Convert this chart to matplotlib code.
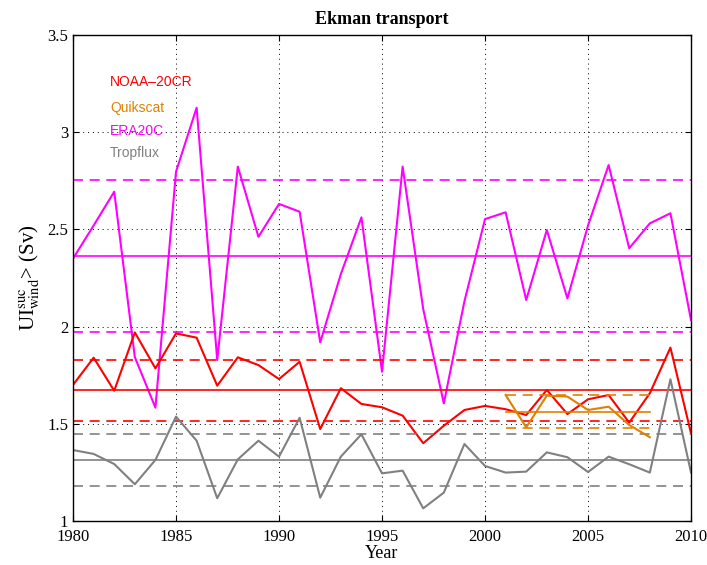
import numpy as np
import matplotlib.pyplot as plt

plt.rcParams['font.family'] = 'Liberation Serif'
plt.rcParams['mathtext.fontset'] = 'stix'

years = np.arange(1980, 2011)
noaa = [1.70, 1.84, 1.67, 1.97, 1.785, 1.965, 1.943, 1.696, 1.842, 1.802,
        1.730, 1.819, 1.473, 1.683, 1.602, 1.585, 1.542, 1.400, 1.49, 1.571,
        1.592, 1.575, 1.545, 1.674, 1.550, 1.626, 1.648, 1.506, 1.657, 1.892,
        1.451]
era20c = [2.35, 2.52, 2.694, 1.843, 1.583, 2.797, 3.126, 1.828, 2.823, 2.462,
          2.631, 2.591, 1.919, 2.27, 2.562, 1.768, 2.823, 2.09, 1.605, 2.13,
          2.553, 2.588, 2.137, 2.497, 2.145, 2.52, 2.831, 2.403, 2.531, 2.583,
          2.034]
tropflux = [1.365, 1.345, 1.293, 1.189, 1.314, 1.537, 1.413, 1.117, 1.317, 1.413,
            1.331, 1.531, 1.120, 1.331, 1.446, 1.245, 1.259, 1.065, 1.146, 1.396,
            1.283, 1.249, 1.254, 1.353, 1.328, 1.252, 1.331, 1.292, 1.249, 1.729,
            1.249]
qs_years = np.arange(2001, 2009)
quikscat = [1.648, 1.482, 1.645, 1.640, 1.571, 1.588, 1.494, 1.431]

# mean and mean +/- std levels
levels = {
    'noaa': (1.674, 1.828, 1.514),
    'era': (2.362, 2.753, 1.971),
    'trop': (1.314, 1.447, 1.180),
    'qs': (1.562, 1.648, 1.477),
}

c_noaa = '#ff0000'
c_era = '#ff00ff'
c_trop = '#808080'
c_qs = '#e08000'

fig = plt.figure(figsize=(7.07, 5.65), dpi=100)
ax = fig.add_axes([0.1033, 0.0779, 0.8741, 0.8601])

def add_series(x, y, lev, c, x0, x1):
    ax.plot(x, y, color=c, lw=1.5)
    ax.plot([x0, x1], [lev[0], lev[0]], color=c, lw=1.2)
    ax.plot([x0, x1], [lev[1], lev[1]], color=c, lw=1.2, ls=(0, (6, 4)))
    ax.plot([x0, x1], [lev[2], lev[2]], color=c, lw=1.2, ls=(0, (6, 4)))

add_series(years, era20c, levels['era'], c_era, 1980, 2010)
add_series(years, noaa, levels['noaa'], c_noaa, 1980, 2010)
add_series(years, tropflux, levels['trop'], c_trop, 1980, 2010)
add_series(qs_years, quikscat, levels['qs'], c_qs, 2001, 2008)

lab_font = dict(family='Liberation Sans', fontsize=10)
ax.text(1981.8, 3.26, 'NOAA\u201320CR', color=c_noaa, va='center', **lab_font)
ax.text(1981.8, 3.125, 'Quikscat', color=c_qs, va='center', **lab_font)
ax.text(1981.8, 3.005, 'ERA20C', color=c_era, va='center', **lab_font)
ax.text(1981.8, 2.895, 'Tropflux', color=c_trop, va='center', **lab_font)

ax.set_xlim(1980, 2010)
ax.set_ylim(1, 3.5)
ax.set_xticks(np.arange(1980, 2011, 5))
ax.set_yticks(np.arange(1, 3.51, 0.5))
ax.set_yticklabels(['1', '1.5', '2', '2.5', '3', '3.5'])
ax.grid(True, ls=(0, (1, 4)), color='black', lw=0.7)
ax.tick_params(direction='in', top=True, right=True, labelsize=12, length=4)
ax.tick_params(axis='x', pad=6)
for s in ax.spines.values():
    s.set_linewidth(1.0)

ax.set_title('Ekman transport', fontsize=13, fontweight='bold', pad=8)
ax.set_xlabel('Year', fontsize=13, labelpad=0)
ax.set_ylabel(r'UI$^{\rm suc}_{\rm wind}$> (Sv)', fontsize=15, labelpad=4)

fig.savefig('out.png', dpi=100)
